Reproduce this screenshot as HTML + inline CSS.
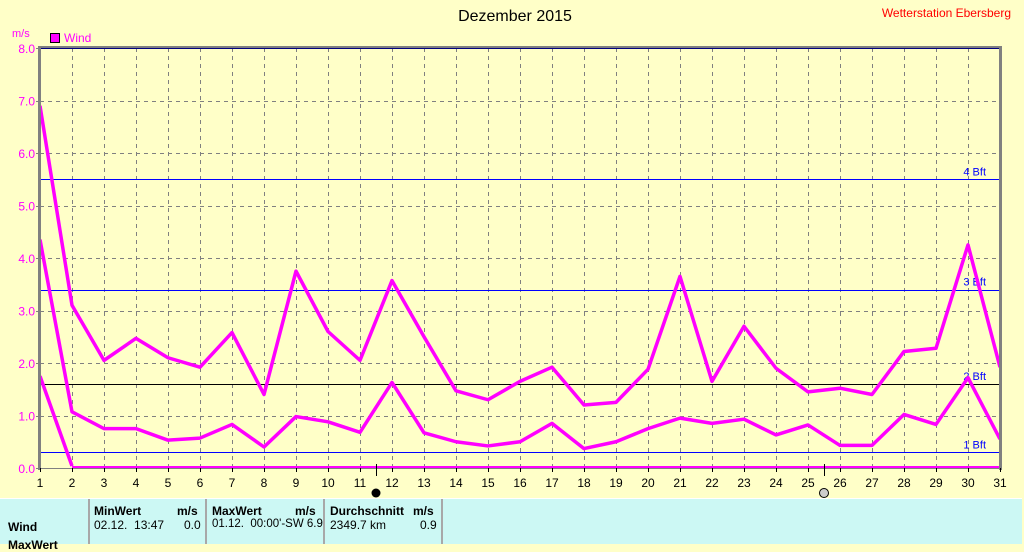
<!DOCTYPE html>
<html><head><meta charset="utf-8"><style>
body{margin:0;width:1024px;height:543px;overflow:hidden;background:#ffffc8;font-family:"Liberation Sans",sans-serif}
svg{position:absolute;left:0;top:0}
.panel{position:absolute;left:0;top:498px;width:1022px;height:45px;background:#ccf8f4;border-top:1px solid #fff}
.panel div{position:absolute;font-size:12px;color:#000;white-space:nowrap}
.sep{position:absolute;top:0;width:2px;height:45px;background:#a8a8a8}
b{font-weight:bold}
</style></head><body>
<svg id="s" width="1024" height="500" xmlns="http://www.w3.org/2000/svg" font-family="Liberation Sans, sans-serif"></svg>
<div class="panel">
<div class="sep" style="left:88px"></div><div class="sep" style="left:205px"></div><div class="sep" style="left:323px"></div><div class="sep" style="left:441px"></div>
<div style="left:94px;top:5px"><b>MinWert</b></div><div style="left:177px;top:5px"><b>m/s</b></div>
<div style="left:94px;top:19px">02.12.&nbsp; 13:47</div><div style="left:184px;top:19px">0.0</div>
<div style="left:212px;top:5px"><b>MaxWert</b></div><div style="left:295px;top:5px"><b>m/s</b></div>
<div style="left:212px;top:19px;font-size:11.5px">01.12.&nbsp; 00:00'-SW 6.9</div>
<div style="left:330px;top:5px"><b>Durchschnitt</b></div><div style="left:413px;top:5px"><b>m/s</b></div>
<div style="left:330px;top:19px">2349.7 km</div><div style="left:420px;top:19px">0.9</div>
<div style="left:8px;top:21px"><b>Wind</b></div>
<div style="left:8px;top:39px"><b>MaxWert</b></div>
</div>
<script>
var s=document.getElementById('s'),h='';
function X(d){return 40+32*(d-1)}function Y(v){return 468-52.5*v}
function R(v){return Math.round(Y(v))+0.5}
for(var d=2;d<=30;d++)h+='<line x1="'+(X(d)+0.5)+'" y1="48" x2="'+(X(d)+0.5)+'" y2="468" stroke="#808080" stroke-dasharray="4,4"/>';
for(var v=1;v<8;v++)h+='<line x1="40" y1="'+R(v)+'" x2="1000" y2="'+R(v)+'" stroke="#808080" stroke-dasharray="4,4"/>';
[[5.5,'4 Bft','#0000ff'],[3.4,'3 Bft','#0000ff'],[1.6,'2 Bft','#000000'],[0.3,'1 Bft','#0000ff']].forEach(function(b){
h+='<rect x="40" y="'+Math.round(Y(b[0]))+'" width="960" height="1" fill="'+b[2]+'"/>';
h+='<text x="986" y="'+(Y(b[0])-4)+'" font-size="11" fill="#0000ff" text-anchor="end">'+b[1]+'</text>';});
var a=[6.9,3.1,2.05,2.47,2.1,1.92,2.58,1.4,3.75,2.6,2.05,3.57,2.5,1.47,1.3,1.65,1.92,1.2,1.25,1.88,3.65,1.65,2.7,1.9,1.45,1.52,1.4,2.22,2.28,4.25,1.92];
var b=[4.35,1.07,.75,.75,.53,.57,.83,.4,.98,.88,.68,1.63,.67,.5,.42,.5,.85,.37,.5,.75,.95,.85,.93,.63,.82,.43,.43,1.02,.83,1.72,.55];
[a,b].forEach(function(r){var p=r.map(function(v,i){return X(i+1)+','+Y(v)}).join(' ');
h+='<polyline points="'+p+'" fill="none" stroke="#ff00ff" stroke-width="3.5" stroke-linejoin="round"/>';});
h+='<polyline points="40,'+Y(1.75)+' 72,466" fill="none" stroke="#ff00ff" stroke-width="3.5"/>';
h+='<rect x="72" y="466" width="928" height="2" fill="#ff00ff"/>';
h+='<rect x="38" y="46" width="964" height="3" fill="#808080"/><rect x="40" y="48" width="960" height="1" fill="#000080"/>';
h+='<rect x="38" y="46" width="3" height="424" fill="#808080"/><rect x="999" y="46" width="3" height="424" fill="#808080"/>';
h+='<rect x="40" y="468" width="960" height="1" fill="#808080"/>';
for(var v=0;v<=8;v++)h+='<text x="35" y="'+(Y(v)+5)+'" font-size="12" fill="#ff00ff" text-anchor="end">'+v.toFixed(1)+'</text><rect x="36" y="'+Math.round(Y(v))+'" width="4" height="1" fill="#808080"/>';
for(var d=1;d<=31;d++)h+='<rect x="'+X(d)+'" y="468" width="1" height="4" fill="#000"/><text x="'+X(d)+'" y="487" font-size="12" text-anchor="middle">'+d+'</text>';
h+='<rect x="376" y="464" width="1" height="12" fill="#000"/><circle cx="376" cy="493" r="4.5" fill="#000"/>';
h+='<rect x="824" y="464" width="1" height="12" fill="#000"/><circle cx="824" cy="493" r="4.5" fill="#ccc" stroke="#000"/>';
h+='<text x="12" y="37" font-size="11" fill="#ff00ff">m/s</text><rect x="50.5" y="33.5" width="9" height="9" fill="#ff00ff" stroke="#000"/><text x="64" y="42" font-size="12" fill="#ff00ff">Wind</text>';
h+='<text x="515" y="21" font-size="16" text-anchor="middle">Dezember 2015</text>';
h+='<text x="1011" y="17" font-size="12" fill="#ff0000" text-anchor="end">Wetterstation Ebersberg</text>';
s.innerHTML=h;
</script>
</body></html>
